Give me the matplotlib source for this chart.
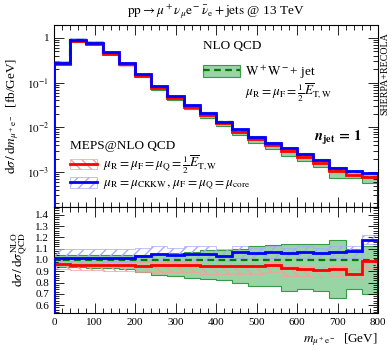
import matplotlib
matplotlib.use("Agg")
import matplotlib.pyplot as plt
import numpy as np
from matplotlib.patches import Patch
from matplotlib.lines import Line2D
from matplotlib.ticker import FixedLocator, FuncFormatter, MultipleLocator, LogLocator, NullFormatter

plt.rcParams["font.family"] = ["Liberation Serif", "DejaVu Serif"]
plt.rcParams["mathtext.fontset"] = "stix"

# bin edges in m_{mu+ e-} [GeV]
edges = np.arange(0, 801, 40)

# NLO QCD W+W- + jet central value [fb/GeV]
nlo = [0.272, 0.887, 0.778, 0.467, 0.268, 0.148, 0.080, 0.0485, 0.0302, 0.0199,
       0.01295, 0.00843, 0.00585, 0.00423, 0.00321, 0.00236, 0.00176, 0.00113, 0.00099, 0.000797]
nlo_lo = [0.94, 0.935, 0.93, 0.925, 0.917, 0.893, 0.867, 0.858, 0.843, 0.828,
          0.82, 0.80, 0.77, 0.77, 0.725, 0.745, 0.725, 0.665, 0.74, 0.70]
nlo_hi = [1.04, 1.04, 1.04, 1.04, 1.04, 1.045, 1.055, 1.065, 1.075, 1.085,
          1.09, 1.10, 1.12, 1.13, 1.14, 1.145, 1.145, 1.175, 1.095, 1.12]

# MEPS@NLO, mu = 1/2 E_T,W  (ratio to NLO)
red = [0.965, 0.96, 0.96, 0.96, 0.955, 0.95, 0.96, 0.955, 0.96, 0.95,
       0.945, 0.945, 0.95, 0.96, 0.925, 0.92, 0.915, 0.92, 0.88, 0.995]
red_lo = [0.92, 0.91, 0.91, 0.90, 0.90, 0.89, 0.89, 0.89, 0.89, 0.88,
          0.88, 0.88, 0.88, 0.89, 0.86, 0.86, 0.85, 0.86, 0.83, 0.93]
red_hi = [0.99, 0.99, 0.99, 0.98, 0.98, 0.98, 0.98, 0.98, 0.98, 0.97,
          0.97, 0.97, 0.97, 0.98, 0.95, 0.95, 0.94, 0.95, 0.92, 1.00]

# MEPS@NLO, mu_R = mu_CKKW, mu_F = mu_Q = mu_core  (ratio to NLO)
blue = [1.015, 1.015, 1.015, 1.015, 1.015, 1.035, 1.055, 1.04, 1.05, 1.055,
        1.035, 1.075, 1.06, 1.075, 1.06, 1.075, 1.065, 1.075, 1.08, 1.18]
blue_lo = [0.97, 0.97, 0.97, 0.98, 0.98, 0.99, 1.00, 0.99, 1.00, 1.00,
           0.99, 1.02, 1.01, 1.02, 1.01, 1.02, 1.01, 1.02, 1.02, 1.14]
blue_hi = [1.10, 1.10, 1.10, 1.10, 1.10, 1.11, 1.12, 1.11, 1.12, 1.12,
           1.10, 1.12, 1.11, 1.12, 1.11, 1.12, 1.11, 1.12, 1.12, 1.22]

nlo = np.array(nlo)
c_green_f = "#98d4a4"
c_green_e = "#3a9a48"
c_green_l = "#007a00"
c_red = "#ff0000"
c_red_h = "#ff9a9a"
c_blue = "#0000ff"
c_blue_h = "#a8a8ff"

fig = plt.figure(figsize=(3.92, 3.5), dpi=100)
ax = fig.add_axes([0.1378, 0.4086, 0.8265, 0.52])
rx = fig.add_axes([0.1378, 0.1057, 0.8265, 0.3029])


def draw(a, scale):
    s = scale
    a.stairs(np.array(nlo_hi) * s, edges, baseline=np.array(nlo_lo) * s, fill=True,
             facecolor=c_green_f, edgecolor="none", zorder=1)
    a.stairs(np.array(nlo_hi) * s, edges, color=c_green_e, lw=0.8, zorder=1.5)
    a.stairs(np.array(nlo_lo) * s, edges, color=c_green_e, lw=0.8, zorder=1.5)
    a.stairs(np.array(red_hi) * s, edges, baseline=np.array(red_lo) * s, fill=True,
             facecolor="none", edgecolor=c_red_h, hatch="\\\\\\", lw=0.5, zorder=2)
    a.stairs(np.array(blue_hi) * s, edges, baseline=np.array(blue_lo) * s, fill=True,
             facecolor="none", edgecolor=c_blue_h, hatch="///", lw=0.5, zorder=2)
    a.stairs(np.ones(len(nlo)) * s, edges, color=c_green_l, lw=1.6, ls=(0, (3, 2)), zorder=3)
    a.stairs(np.array(red) * s, edges, color=c_red, lw=2.0, zorder=4)
    a.stairs(np.array(blue) * s, edges, color=c_blue, lw=2.0, zorder=5)


draw(ax, nlo)
draw(rx, 1.0)

for a in (ax, rx):
    a.set_xlim(0, 800)
    a.xaxis.set_major_locator(MultipleLocator(100))
    a.xaxis.set_minor_locator(MultipleLocator(20))
    a.tick_params(which="both", direction="in", top=True, right=True, labelsize=8, width=0.6)
    a.tick_params(which="major", length=7)
    a.tick_params(which="minor", length=3.5)
    for sp in a.spines.values():
        sp.set_linewidth(0.8)

ax.set_yscale("log")
ax.set_ylim(1.66e-4, 1.95)
ax.yaxis.set_major_locator(FixedLocator([1e-3, 1e-2, 1e-1, 1]))
ax.yaxis.set_major_formatter(FuncFormatter(
    lambda v, p: "1" if abs(v - 1) < 1e-9 else r"$10^{%d}$" % round(np.log10(v))))
ax.yaxis.set_minor_locator(LogLocator(base=10, subs=np.arange(2, 10)))
ax.yaxis.set_minor_formatter(NullFormatter())
ax.tick_params(labelbottom=False)
ax.set_ylabel(r"$\mathrm{d}\sigma\,/\,\mathrm{d}m_{\mu^+\mathrm{e}^-}$  [fb/GeV]", fontsize=9.5, labelpad=4)

rx.set_ylim(0.53, 1.47)
rx.yaxis.set_major_locator(FixedLocator([0.6, 0.7, 0.8, 0.9, 1.0, 1.1, 1.2, 1.3, 1.4]))
rx.yaxis.set_major_formatter(FuncFormatter(lambda v, p: "%.1f" % v))
rx.yaxis.set_minor_locator(MultipleLocator(0.02))
rx.set_ylabel(r"$\mathrm{d}\sigma\,/\,\mathrm{d}\sigma^{\mathrm{NLO}}_{\mathrm{QCD}}$", fontsize=9.5, labelpad=4)
rx.set_xlabel(r"$m_{\mu^+\mathrm{e}^-}$  [GeV]", fontsize=9.5, loc="right", labelpad=3)

fig.text(0.55, 0.965, r"$\mathrm{pp}\rightarrow\mu^+\nu_\mu\mathrm{e}^-\bar{\nu}_\mathrm{e}+\mathrm{jets}$ @ 13 TeV",
         ha="center", va="center", fontsize=9.5)
fig.text(0.982, 0.79, "SHERPA+RECOLA", rotation=90, ha="center", va="center", fontsize=7.2)

# legends
ax.text(0.46, 0.885, "NLO QCD", transform=ax.transAxes, fontsize=9.5, va="center")
h_nlo = (Patch(facecolor=c_green_f, edgecolor=c_green_e, lw=0.8),
         Line2D([], [], color=c_green_l, lw=1.6, ls=(0, (3, 2))))
leg1 = ax.legend([h_nlo], [r"$\mathrm{W}^+\mathrm{W}^-$+ jet"],
                 loc="center left", bbox_to_anchor=(0.46, 0.742), frameon=False,
                 fontsize=9.5, borderpad=0,
                 handlelength=2.8, handleheight=1.0, handletextpad=0.4, borderaxespad=0)
ax.add_artist(leg1)
ax.text(0.59, 0.626, r"$\mu_{\mathrm{R}}=\mu_{\mathrm{F}}=\frac{1}{2}\overline{E}_{\mathrm{T,W}}$",
        transform=ax.transAxes, fontsize=9.5, va="center")

ax.text(0.05, 0.335, "MEPS@NLO QCD", transform=ax.transAxes, fontsize=9.5, va="center")
h_red = (Patch(facecolor="none", edgecolor=c_red_h, hatch="\\\\\\", lw=0.5),
         Line2D([], [], color=c_red, lw=2.0))
h_blue = (Patch(facecolor="none", edgecolor=c_blue_h, hatch="///", lw=0.5),
          Line2D([], [], color=c_blue, lw=2.0))
leg2 = ax.legend([h_red, h_blue],
                 [r"$\mu_{\mathrm{R}}=\mu_{\mathrm{F}}=\mu_{\mathrm{Q}}=\frac{1}{2}\overline{E}_{\mathrm{T,W}}$",
                  r"$\mu_{\mathrm{R}}=\mu_{\mathrm{CKKW}},\,\mu_{\mathrm{F}}=\mu_{\mathrm{Q}}=\mu_{\mathrm{core}}$"],
                 loc="center left", bbox_to_anchor=(0.05, 0.185),
                 frameon=False, fontsize=9.5, borderpad=0,
                 handlelength=2.0, handleheight=0.9, handletextpad=0.5, labelspacing=0.05,
                 borderaxespad=0)

ax.text(0.95, 0.38, r"$\mathbfit{n}_{\mathbf{jet}}\,\mathbf{=\,1}$", transform=ax.transAxes,
        ha="right", va="center", fontsize=10.5)

fig.savefig("out.png", dpi=100)
